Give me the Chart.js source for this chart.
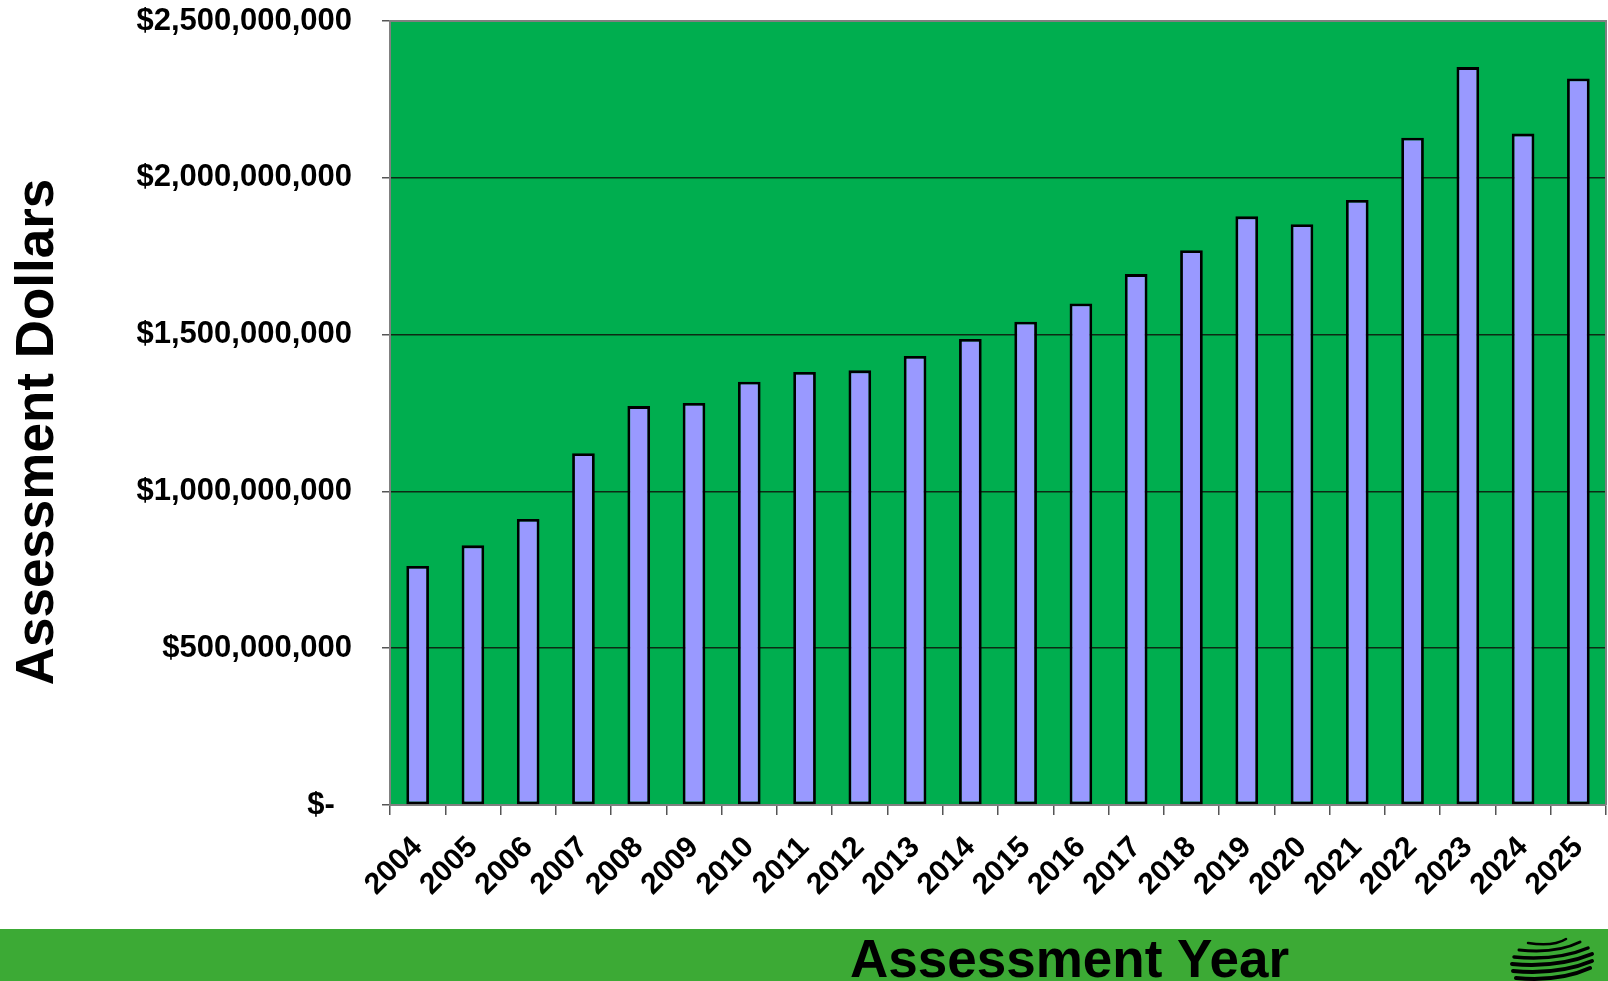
<!DOCTYPE html>
<html>
<head>
<meta charset="utf-8">
<script src="https://cdn.jsdelivr.net/npm/chart.js@4.4.1/dist/chart.umd.min.js"></script>
<style>
  html, body { margin: 0; padding: 0; background: #ffffff; }
  #wrap { width: 1608px; height: 981px; position: relative; }
</style>
</head>
<body>
<div id="wrap"><canvas id="chart" width="1608" height="981"></canvas></div>
<script>
// --- DATA ---
const years = ['2004', '2005', '2006', '2007', '2008', '2009', '2010', '2011', '2012', '2013', '2014',
               '2015', '2016', '2017', '2018', '2019', '2020', '2021', '2022', '2023', '2024', '2025'];
// assessment in billions of dollars
const assessmentBillions = [0.762, 0.828, 0.912, 1.122, 1.272, 1.282, 1.350, 1.381, 1.386, 1.432, 1.486,
                            1.541, 1.599, 1.693, 1.769, 1.877, 1.852, 1.929, 2.128, 2.353, 2.141, 2.317];
const yTicks = [0, 500000000, 1000000000, 1500000000, 2000000000, 2500000000];

const yTitle = 'Assessment Dollars';
const xTitle = 'Assessment Year';

const FONT = '"Liberation Sans", Arial, sans-serif';

// --- HELPERS ---
function dollars(v) {
    if (v === 0) return '$-  ';
    return '$' + Math.round(v).toLocaleString('en-US');
}

// background, frame, titles, footer band and logo
const decor = {
    id: 'decor',
    beforeDraw(chart) {
        const { ctx, chartArea: a } = chart;
        ctx.save();
        ctx.fillStyle = '#00ae4f';
        ctx.fillRect(a.left, a.top, a.right - a.left, a.bottom - a.top);
        ctx.restore();
    },
    afterDraw(chart) {
        const { ctx, chartArea: a, width, height } = chart;
        ctx.save();
        // plot frame top / right
        ctx.strokeStyle = '#808080';
        ctx.lineWidth = 2;
        ctx.beginPath();
        ctx.moveTo(a.left, a.top);
        ctx.lineTo(a.right, a.top);
        ctx.lineTo(a.right, a.bottom);
        ctx.stroke();

        // y title
        ctx.fillStyle = '#000';
        ctx.font = 'bold 53px ' + FONT;
        ctx.textAlign = 'center';
        ctx.textBaseline = 'alphabetic';
        ctx.translate(53, 432);
        ctx.rotate(-Math.PI / 2);
        ctx.fillText(yTitle, 0, 0);
        ctx.setTransform(1, 0, 0, 1, 0, 0);

        // footer band
        ctx.fillStyle = '#3caa35';
        ctx.fillRect(0, 929, width, height - 929);
        ctx.fillStyle = '#000';
        ctx.font = 'bold 53px ' + FONT;
        ctx.textAlign = 'left';
        ctx.fillText(xTitle, 850, 977);

        // little globe logo
        ctx.strokeStyle = '#000';
        ctx.lineCap = 'round';
        const lines = [[1528, 943, 1566, 939, 2.5], [1519, 950, 1580, 942, 3], [1514, 957, 1588, 948, 3.5],
                       [1512, 964, 1592, 954, 4], [1513, 971, 1592, 961, 4], [1516, 978, 1590, 968, 4]];
        lines.forEach(l => {
            ctx.lineWidth = l[4];
            ctx.beginPath();
            ctx.moveTo(l[0], l[1]);
            ctx.quadraticCurveTo((l[0] + l[2]) / 2 + 6, l[1] + 4, l[2], l[3]);
            ctx.stroke();
        });
        ctx.restore();
    }
};

// --- CHART ---
const ctx = document.getElementById('chart').getContext('2d');
new Chart(ctx, {
    type: 'bar',
    data: {
        labels: years,
        datasets: [{
            label: 'Assessment',
            data: assessmentBillions.map(v => v * 1e9),
            backgroundColor: '#9999ff',
            borderColor: '#000000',
            borderWidth: 2.8,
            borderSkipped: false,
            categoryPercentage: 1,
            barPercentage: 0.41
        }]
    },
    options: {
        responsive: false,
        animation: false,
        devicePixelRatio: 1,
        layout: { padding: { left: 0, top: 21, right: 2, bottom: 0 } },
        plugins: {
            legend: { display: false },
            tooltip: { enabled: false }
        },
        scales: {
            x: {
                afterFit: s => { s.height = 176; s.paddingLeft = 0; s.paddingRight = 0; },
                grid: { offset: true, drawOnChartArea: false, tickLength: 10, tickColor: '#555', lineWidth: 1.5 },
                border: { display: true, color: '#808080', width: 2 },
                ticks: {
                    autoSkip: false,
                    minRotation: 45,
                    maxRotation: 45,
                    padding: 15,
                    color: '#000',
                    font: { family: FONT, size: 30, weight: 'bold' }
                }
            },
            y: {
                min: 0,
                max: 2500000000,
                afterFit: s => { s.width = 390; s.paddingTop = 0; s.paddingBottom = 0; },
                afterBuildTicks: s => { s.ticks = yTicks.map(v => ({ value: v })); },
                grid: { color: '#0c2a14', lineWidth: 1.5, tickLength: 8, tickColor: '#555' },
                border: { display: true, color: '#808080', width: 2 },
                ticks: {
                    padding: 30,
                    color: '#000',
                    font: { family: FONT, size: 31, weight: 'bold' },
                    callback: v => dollars(v)
                }
            }
        }
    },
    plugins: [decor]
});
</script>
</body>
</html>
